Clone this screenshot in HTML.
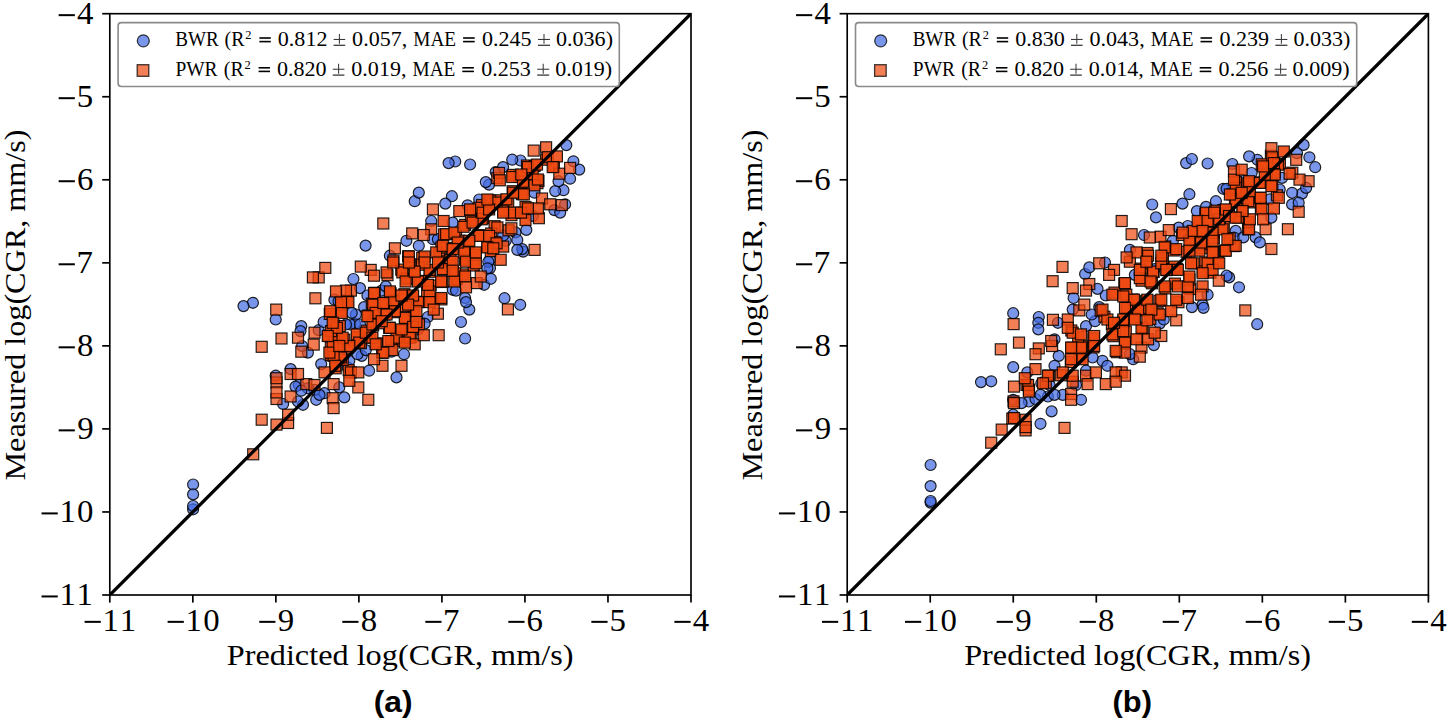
<!DOCTYPE html>
<html><head><meta charset="utf-8"><style>
html,body{margin:0;padding:0;background:#fff;width:1450px;height:726px;overflow:hidden}
svg{display:block}
</style></head><body>
<svg width="1450" height="726" viewBox="0 0 1450 726"><svg x="109.80" y="13.70" width="581.20" height="581.30" viewBox="109.80 13.70 581.20 581.30" overflow="hidden">
<g fill="#4169e1" fill-opacity="0.7" stroke="#000" stroke-opacity="0.85" stroke-width="1.2">
<circle cx="324.5" cy="393.2" r="5.5"/>
<circle cx="523.1" cy="251.6" r="5.5"/>
<circle cx="579.2" cy="169.6" r="5.5"/>
<circle cx="355.0" cy="323.6" r="5.5"/>
<circle cx="252.9" cy="302.8" r="5.5"/>
<circle cx="350.1" cy="324.5" r="5.5"/>
<circle cx="515.5" cy="232.4" r="5.5"/>
<circle cx="298.8" cy="385.0" r="5.5"/>
<circle cx="504.5" cy="298.2" r="5.5"/>
<circle cx="334.4" cy="299.7" r="5.5"/>
<circle cx="563.5" cy="190.2" r="5.5"/>
<circle cx="465.1" cy="298.0" r="5.5"/>
<circle cx="520.2" cy="304.8" r="5.5"/>
<circle cx="490.0" cy="268.1" r="5.5"/>
<circle cx="414.7" cy="201.2" r="5.5"/>
<circle cx="404.0" cy="354.2" r="5.5"/>
<circle cx="427.9" cy="317.0" r="5.5"/>
<circle cx="361.7" cy="355.9" r="5.5"/>
<circle cx="338.5" cy="301.3" r="5.5"/>
<circle cx="517.3" cy="240.0" r="5.5"/>
<circle cx="307.9" cy="352.6" r="5.5"/>
<circle cx="301.3" cy="326.1" r="5.5"/>
<circle cx="461.0" cy="322.0" r="5.5"/>
<circle cx="406.4" cy="240.8" r="5.5"/>
<circle cx="347.6" cy="367.4" r="5.5"/>
<circle cx="489.1" cy="184.6" r="5.5"/>
<circle cx="349.3" cy="360.8" r="5.5"/>
<circle cx="369.1" cy="370.7" r="5.5"/>
<circle cx="520.5" cy="160.5" r="5.5"/>
<circle cx="193.1" cy="509.3" r="5.5"/>
<circle cx="391.6" cy="351.7" r="5.5"/>
<circle cx="193.1" cy="506.0" r="5.5"/>
<circle cx="283.1" cy="404.0" r="5.5"/>
<circle cx="295.5" cy="386.6" r="5.5"/>
<circle cx="314.5" cy="389.9" r="5.5"/>
<circle cx="484.1" cy="284.8" r="5.5"/>
<circle cx="570.1" cy="178.7" r="5.5"/>
<circle cx="290.6" cy="369.1" r="5.5"/>
<circle cx="526.3" cy="229.9" r="5.5"/>
<circle cx="452.7" cy="289.8" r="5.5"/>
<circle cx="566.3" cy="145.1" r="5.5"/>
<circle cx="432.9" cy="239.2" r="5.5"/>
<circle cx="357.5" cy="354.2" r="5.5"/>
<circle cx="344.3" cy="397.4" r="5.5"/>
<circle cx="381.7" cy="290.6" r="5.5"/>
<circle cx="418.8" cy="192.6" r="5.5"/>
<circle cx="505.7" cy="240.8" r="5.5"/>
<circle cx="243.5" cy="306.1" r="5.5"/>
<circle cx="418.0" cy="329.4" r="5.5"/>
<circle cx="554.4" cy="210.1" r="5.5"/>
<circle cx="365.8" cy="350.1" r="5.5"/>
<circle cx="455.2" cy="161.5" r="5.5"/>
<circle cx="355.9" cy="314.5" r="5.5"/>
<circle cx="321.2" cy="364.1" r="5.5"/>
<circle cx="448.6" cy="163.1" r="5.5"/>
<circle cx="522.2" cy="249.1" r="5.5"/>
<circle cx="360.0" cy="324.5" r="5.5"/>
<circle cx="351.7" cy="312.9" r="5.5"/>
<circle cx="385.8" cy="286.4" r="5.5"/>
<circle cx="469.3" cy="309.6" r="5.5"/>
<circle cx="512.2" cy="159.7" r="5.5"/>
<circle cx="451.9" cy="196.2" r="5.5"/>
<circle cx="303.0" cy="404.8" r="5.5"/>
<circle cx="534.5" cy="192.7" r="5.5"/>
<circle cx="465.1" cy="338.5" r="5.5"/>
<circle cx="452.7" cy="222.6" r="5.5"/>
<circle cx="555.2" cy="191.1" r="5.5"/>
<circle cx="503.1" cy="235.7" r="5.5"/>
<circle cx="424.6" cy="323.6" r="5.5"/>
<circle cx="490.0" cy="259.8" r="5.5"/>
<circle cx="495.7" cy="172.1" r="5.5"/>
<circle cx="307.9" cy="388.3" r="5.5"/>
<circle cx="479.2" cy="199.5" r="5.5"/>
<circle cx="488.3" cy="261.7" r="5.5"/>
<circle cx="573.4" cy="161.3" r="5.5"/>
<circle cx="532.9" cy="215.9" r="5.5"/>
<circle cx="445.3" cy="203.6" r="5.5"/>
<circle cx="275.7" cy="319.5" r="5.5"/>
<circle cx="316.2" cy="399.8" r="5.5"/>
<circle cx="360.0" cy="288.1" r="5.5"/>
<circle cx="503.1" cy="167.1" r="5.5"/>
<circle cx="319.5" cy="394.9" r="5.5"/>
<circle cx="367.4" cy="295.5" r="5.5"/>
<circle cx="301.3" cy="390.7" r="5.5"/>
<circle cx="396.5" cy="377.4" r="5.5"/>
<circle cx="318.7" cy="330.2" r="5.5"/>
<circle cx="565.1" cy="204.3" r="5.5"/>
<circle cx="487.4" cy="268.3" r="5.5"/>
<circle cx="466.0" cy="302.1" r="5.5"/>
<circle cx="193.1" cy="484.5" r="5.5"/>
<circle cx="490.8" cy="278.8" r="5.5"/>
<circle cx="353.4" cy="279.0" r="5.5"/>
<circle cx="560.2" cy="212.6" r="5.5"/>
<circle cx="467.6" cy="205.3" r="5.5"/>
<circle cx="485.8" cy="182.1" r="5.5"/>
<circle cx="364.1" cy="307.1" r="5.5"/>
<circle cx="437.9" cy="239.2" r="5.5"/>
<circle cx="323.6" cy="322.0" r="5.5"/>
<circle cx="275.7" cy="375.7" r="5.5"/>
<circle cx="470.1" cy="164.5" r="5.5"/>
<circle cx="517.3" cy="249.9" r="5.5"/>
<circle cx="418.8" cy="245.8" r="5.5"/>
<circle cx="431.2" cy="221.0" r="5.5"/>
<circle cx="193.1" cy="494.4" r="5.5"/>
<circle cx="389.9" cy="255.7" r="5.5"/>
<circle cx="300.5" cy="331.1" r="5.5"/>
<circle cx="456.0" cy="290.6" r="5.5"/>
<circle cx="346.0" cy="324.5" r="5.5"/>
<circle cx="298.0" cy="401.5" r="5.5"/>
<circle cx="339.3" cy="387.4" r="5.5"/>
<circle cx="365.6" cy="245.6" r="5.5"/>
<circle cx="558.5" cy="181.2" r="5.5"/>
<circle cx="302.1" cy="346.0" r="5.5"/>
</g>
<g fill="#ee4810" fill-opacity="0.7" stroke="#000" stroke-opacity="0.85" stroke-width="1.2">
<rect x="438.6" y="228.9" width="11.0" height="11.0" fill-opacity="0.91"/>
<rect x="366.3" y="298.1" width="11.0" height="11.0" fill-opacity="0.91"/>
<rect x="328.9" y="329.1" width="11.0" height="11.0" fill-opacity="0.91"/>
<rect x="335.4" y="305.1" width="11.0" height="11.0" fill-opacity="0.91"/>
<rect x="506.0" y="209.7" width="11.0" height="11.0" fill-opacity="0.91"/>
<rect x="450.6" y="228.4" width="11.0" height="11.0" fill-opacity="0.91"/>
<rect x="437.2" y="264.1" width="11.0" height="11.0" fill-opacity="0.91"/>
<rect x="405.9" y="331.1" width="11.0" height="11.0" fill-opacity="0.91"/>
<rect x="473.1" y="229.6" width="11.0" height="11.0" fill-opacity="0.91"/>
<rect x="532.0" y="177.7" width="11.0" height="11.0" fill-opacity="0.91"/>
<rect x="343.2" y="364.6" width="11.0" height="11.0" fill-opacity="0.91"/>
<rect x="391.6" y="334.7" width="11.0" height="11.0" fill-opacity="0.91"/>
<rect x="367.7" y="307.7" width="11.0" height="11.0" fill-opacity="0.91"/>
<rect x="351.6" y="331.6" width="11.0" height="11.0" fill-opacity="0.91"/>
<rect x="386.9" y="294.6" width="11.0" height="11.0" fill-opacity="0.91"/>
<rect x="491.2" y="194.8" width="11.0" height="11.0" fill-opacity="0.91"/>
<rect x="451.3" y="273.6" width="11.0" height="11.0" fill-opacity="0.91"/>
<rect x="489.1" y="220.7" width="11.0" height="11.0" fill-opacity="0.91"/>
<rect x="459.5" y="244.0" width="11.0" height="11.0" fill-opacity="0.91"/>
<rect x="463.2" y="237.3" width="11.0" height="11.0" fill-opacity="0.91"/>
<rect x="459.7" y="219.4" width="11.0" height="11.0" fill-opacity="0.91"/>
<rect x="355.4" y="337.7" width="11.0" height="11.0" fill-opacity="0.91"/>
<rect x="516.3" y="188.6" width="11.0" height="11.0" fill-opacity="0.91"/>
<rect x="361.4" y="325.2" width="11.0" height="11.0" fill-opacity="0.91"/>
<rect x="414.6" y="296.3" width="11.0" height="11.0" fill-opacity="0.91"/>
<rect x="433.5" y="248.7" width="11.0" height="11.0" fill-opacity="0.91"/>
<rect x="424.3" y="266.3" width="11.0" height="11.0" fill-opacity="0.91"/>
<rect x="399.6" y="313.6" width="11.0" height="11.0" fill-opacity="0.91"/>
<rect x="341.8" y="294.9" width="11.0" height="11.0" fill-opacity="0.91"/>
<rect x="395.7" y="264.1" width="11.0" height="11.0" fill-opacity="0.91"/>
<rect x="502.7" y="196.4" width="11.0" height="11.0" fill-opacity="0.91"/>
<rect x="477.5" y="212.8" width="11.0" height="11.0" fill-opacity="0.91"/>
<rect x="526.5" y="168.0" width="11.0" height="11.0" fill-opacity="0.91"/>
<rect x="408.2" y="304.6" width="11.0" height="11.0" fill-opacity="0.91"/>
<rect x="369.2" y="287.3" width="11.0" height="11.0" fill-opacity="0.84"/>
<rect x="342.3" y="342.2" width="11.0" height="11.0" fill-opacity="0.91"/>
<rect x="337.2" y="354.4" width="11.0" height="11.0" fill-opacity="0.91"/>
<rect x="380.0" y="297.3" width="11.0" height="11.0" fill-opacity="0.91"/>
<rect x="459.6" y="254.3" width="11.0" height="11.0" fill-opacity="0.91"/>
<rect x="326.3" y="348.6" width="11.0" height="11.0" fill-opacity="0.91"/>
<rect x="406.7" y="292.0" width="11.0" height="11.0" fill-opacity="0.91"/>
<rect x="416.7" y="252.5" width="11.0" height="11.0" fill-opacity="0.91"/>
<rect x="421.6" y="286.4" width="11.0" height="11.0" fill-opacity="0.91"/>
<rect x="521.5" y="160.0" width="11.0" height="11.0" fill-opacity="0.91"/>
<rect x="476.5" y="199.5" width="11.0" height="11.0" fill-opacity="0.91"/>
<rect x="325.3" y="342.2" width="11.0" height="11.0" fill-opacity="0.91"/>
<rect x="330.2" y="362.8" width="11.0" height="11.0" fill-opacity="0.91"/>
<rect x="465.5" y="214.8" width="11.0" height="11.0" fill-opacity="0.91"/>
<rect x="385.1" y="287.8" width="11.0" height="11.0" fill-opacity="0.91"/>
<rect x="396.8" y="335.5" width="11.0" height="11.0" fill-opacity="0.91"/>
<rect x="414.4" y="275.4" width="11.0" height="11.0" fill-opacity="0.91"/>
<rect x="475.6" y="209.4" width="11.0" height="11.0" fill-opacity="0.91"/>
<rect x="401.5" y="273.1" width="11.0" height="11.0" fill-opacity="0.91"/>
<rect x="399.7" y="300.6" width="11.0" height="11.0" fill-opacity="0.91"/>
<rect x="402.6" y="250.8" width="11.0" height="11.0" fill-opacity="0.88"/>
<rect x="485.7" y="228.0" width="11.0" height="11.0" fill-opacity="0.91"/>
<rect x="434.0" y="255.9" width="11.0" height="11.0" fill-opacity="0.91"/>
<rect x="389.4" y="306.7" width="11.0" height="11.0" fill-opacity="0.91"/>
<rect x="457.7" y="268.9" width="11.0" height="11.0" fill-opacity="0.91"/>
<rect x="468.2" y="260.0" width="11.0" height="11.0" fill-opacity="0.91"/>
<rect x="394.8" y="325.2" width="11.0" height="11.0" fill-opacity="0.91"/>
<rect x="327.6" y="326.2" width="11.0" height="11.0" fill-opacity="0.91"/>
<rect x="445.0" y="254.4" width="11.0" height="11.0" fill-opacity="0.91"/>
<rect x="435.9" y="293.9" width="11.0" height="11.0" fill-opacity="0.88"/>
<rect x="338.8" y="334.1" width="11.0" height="11.0" fill-opacity="0.91"/>
<rect x="367.6" y="320.0" width="11.0" height="11.0" fill-opacity="0.91"/>
<rect x="335.8" y="299.3" width="11.0" height="11.0" fill-opacity="0.91"/>
<rect x="334.3" y="320.5" width="11.0" height="11.0" fill-opacity="0.91"/>
<rect x="376.6" y="347.3" width="11.0" height="11.0" fill-opacity="0.91"/>
<rect x="416.4" y="259.2" width="11.0" height="11.0" fill-opacity="0.91"/>
<rect x="435.8" y="242.0" width="11.0" height="11.0" fill-opacity="0.91"/>
<rect x="323.4" y="330.2" width="11.0" height="11.0" fill-opacity="0.91"/>
<rect x="507.1" y="185.7" width="11.0" height="11.0" fill-opacity="0.91"/>
<rect x="408.8" y="266.3" width="11.0" height="11.0" fill-opacity="0.91"/>
<rect x="503.0" y="224.8" width="11.0" height="11.0" fill-opacity="0.84"/>
<rect x="379.1" y="309.0" width="11.0" height="11.0" fill-opacity="0.91"/>
<rect x="325.7" y="349.7" width="11.0" height="11.0" fill-opacity="0.91"/>
<rect x="426.9" y="293.8" width="11.0" height="11.0" fill-opacity="0.91"/>
<rect x="436.8" y="276.5" width="11.0" height="11.0" fill-opacity="0.91"/>
<rect x="507.3" y="169.4" width="11.0" height="11.0" fill-opacity="0.91"/>
<rect x="398.9" y="288.7" width="11.0" height="11.0" fill-opacity="0.91"/>
<rect x="498.0" y="205.1" width="11.0" height="11.0" fill-opacity="0.91"/>
<rect x="364.4" y="332.1" width="11.0" height="11.0" fill-opacity="0.91"/>
<rect x="331.9" y="339.4" width="11.0" height="11.0" fill-opacity="0.91"/>
<rect x="449.6" y="267.8" width="11.0" height="11.0" fill-opacity="0.91"/>
<rect x="467.2" y="204.8" width="11.0" height="11.0" fill-opacity="0.91"/>
<rect x="489.5" y="236.7" width="11.0" height="11.0" fill-opacity="0.91"/>
<rect x="328.3" y="320.0" width="11.0" height="11.0" fill-opacity="0.91"/>
<rect x="371.5" y="337.8" width="11.0" height="11.0" fill-opacity="0.91"/>
<rect x="533.0" y="175.4" width="11.0" height="11.0" fill-opacity="0.91"/>
<rect x="382.0" y="269.7" width="11.0" height="11.0" fill-opacity="0.8"/>
<rect x="540.6" y="154.2" width="11.0" height="11.0" fill-opacity="0.91"/>
<rect x="519.1" y="177.0" width="11.0" height="11.0" fill-opacity="0.91"/>
<rect x="383.6" y="322.3" width="11.0" height="11.0" fill-opacity="0.91"/>
<rect x="453.9" y="235.2" width="11.0" height="11.0" fill-opacity="0.91"/>
<rect x="446.0" y="242.4" width="11.0" height="11.0" fill-opacity="0.91"/>
<rect x="388.0" y="255.0" width="11.0" height="11.0" fill-opacity="0.84"/>
<rect x="548.4" y="161.4" width="11.0" height="11.0" fill-opacity="0.84"/>
<rect x="491.8" y="172.6" width="11.0" height="11.0" fill-opacity="0.73"/>
<rect x="408.2" y="321.5" width="11.0" height="11.0" fill-opacity="0.91"/>
<rect x="482.9" y="201.9" width="11.0" height="11.0" fill-opacity="0.91"/>
<rect x="324.3" y="308.4" width="11.0" height="11.0" fill-opacity="0.91"/>
<rect x="404.7" y="258.7" width="11.0" height="11.0" fill-opacity="0.91"/>
<rect x="481.9" y="241.3" width="11.0" height="11.0" fill-opacity="0.91"/>
<rect x="362.8" y="310.0" width="11.0" height="11.0" fill-opacity="0.91"/>
<rect x="517.5" y="207.4" width="11.0" height="11.0" fill-opacity="0.88"/>
<rect x="385.7" y="335.6" width="11.0" height="11.0" fill-opacity="0.91"/>
<rect x="520.0" y="201.5" width="11.0" height="11.0" fill-opacity="0.91"/>
<rect x="529.1" y="160.5" width="11.0" height="11.0" fill-opacity="0.91"/>
<rect x="485.3" y="245.6" width="11.0" height="11.0" fill-opacity="0.91"/>
<rect x="425.2" y="280.0" width="11.0" height="11.0" fill-opacity="0.91"/>
<rect x="484.7" y="195.1" width="11.0" height="11.0" fill-opacity="0.91"/>
<rect x="373.6" y="317.8" width="11.0" height="11.0" fill-opacity="0.91"/>
<rect x="514.3" y="171.2" width="11.0" height="11.0" fill-opacity="0.91"/>
<rect x="413.5" y="318.9" width="11.0" height="11.0" fill-opacity="0.91"/>
<rect x="469.8" y="249.4" width="11.0" height="11.0" fill-opacity="0.91"/>
<rect x="425.7" y="223.8" width="11.0" height="11.0" fill-opacity="0.77"/>
<rect x="528.2" y="145.1" width="11.0" height="11.0" fill-opacity="0.73"/>
<rect x="502.4" y="303.9" width="11.0" height="11.0"/>
<rect x="432.4" y="308.2" width="11.0" height="11.0" fill-opacity="0.73"/>
<rect x="440.6" y="228.7" width="11.0" height="11.0" fill-opacity="0.91"/>
<rect x="367.7" y="299.1" width="11.0" height="11.0" fill-opacity="0.91"/>
<rect x="328.9" y="330.5" width="11.0" height="11.0" fill-opacity="0.91"/>
<rect x="336.3" y="307.4" width="11.0" height="11.0" fill-opacity="0.91"/>
<rect x="386.9" y="344.6" width="11.0" height="11.0" fill-opacity="0.91"/>
<rect x="507.6" y="207.1" width="11.0" height="11.0" fill-opacity="0.91"/>
<rect x="448.9" y="227.1" width="11.0" height="11.0" fill-opacity="0.91"/>
<rect x="437.3" y="263.6" width="11.0" height="11.0" fill-opacity="0.91"/>
<rect x="404.3" y="332.2" width="11.0" height="11.0" fill-opacity="0.91"/>
<rect x="327.2" y="392.7" width="11.0" height="11.0"/>
<rect x="328.1" y="378.6" width="11.0" height="11.0"/>
<rect x="473.7" y="230.4" width="11.0" height="11.0" fill-opacity="0.91"/>
<rect x="271.0" y="377.0" width="11.0" height="11.0" fill-opacity="0.73"/>
<rect x="529.0" y="179.8" width="11.0" height="11.0" fill-opacity="0.91"/>
<rect x="352.8" y="381.9" width="11.0" height="11.0" fill-opacity="0.73"/>
<rect x="345.4" y="366.9" width="11.0" height="11.0" fill-opacity="0.8"/>
<rect x="391.0" y="332.2" width="11.0" height="11.0" fill-opacity="0.91"/>
<rect x="370.2" y="307.4" width="11.0" height="11.0" fill-opacity="0.91"/>
<rect x="351.2" y="328.9" width="11.0" height="11.0" fill-opacity="0.91"/>
<rect x="387.7" y="295.8" width="11.0" height="11.0" fill-opacity="0.91"/>
<rect x="313.2" y="271.9" width="11.0" height="11.0" fill-opacity="0.73"/>
<rect x="491.0" y="197.1" width="11.0" height="11.0" fill-opacity="0.91"/>
<rect x="448.9" y="276.0" width="11.0" height="11.0" fill-opacity="0.91"/>
<rect x="491.9" y="221.9" width="11.0" height="11.0" fill-opacity="0.8"/>
<rect x="458.8" y="246.9" width="11.0" height="11.0" fill-opacity="0.91"/>
<rect x="309.0" y="327.2" width="11.0" height="11.0" fill-opacity="0.73"/>
<rect x="463.8" y="235.3" width="11.0" height="11.0" fill-opacity="0.91"/>
<rect x="458.0" y="221.3" width="11.0" height="11.0" fill-opacity="0.88"/>
<rect x="282.6" y="417.5" width="11.0" height="11.0" fill-opacity="0.73"/>
<rect x="353.7" y="337.1" width="11.0" height="11.0" fill-opacity="0.91"/>
<rect x="362.8" y="394.3" width="11.0" height="11.0"/>
<rect x="518.3" y="188.9" width="11.0" height="11.0" fill-opacity="0.91"/>
<rect x="453.8" y="205.6" width="11.0" height="11.0" fill-opacity="0.84"/>
<rect x="360.3" y="327.2" width="11.0" height="11.0" fill-opacity="0.91"/>
<rect x="412.5" y="296.6" width="11.0" height="11.0" fill-opacity="0.91"/>
<rect x="271.0" y="393.5" width="11.0" height="11.0"/>
<rect x="430.7" y="246.9" width="11.0" height="11.0" fill-opacity="0.91"/>
<rect x="533.4" y="212.7" width="11.0" height="11.0" fill-opacity="0.84"/>
<rect x="424.1" y="264.4" width="11.0" height="11.0" fill-opacity="0.91"/>
<rect x="399.3" y="312.4" width="11.0" height="11.0" fill-opacity="0.91"/>
<rect x="256.2" y="341.3" width="11.0" height="11.0"/>
<rect x="342.9" y="296.6" width="11.0" height="11.0" fill-opacity="0.91"/>
<rect x="389.4" y="242.8" width="11.0" height="11.0" fill-opacity="0.73"/>
<rect x="396.8" y="266.9" width="11.0" height="11.0" fill-opacity="0.91"/>
<rect x="500.9" y="193.8" width="11.0" height="11.0" fill-opacity="0.91"/>
<rect x="476.2" y="213.8" width="11.0" height="11.0" fill-opacity="0.91"/>
<rect x="536.5" y="193.0" width="11.0" height="11.0" fill-opacity="0.77"/>
<rect x="527.2" y="168.6" width="11.0" height="11.0" fill-opacity="0.91"/>
<rect x="410.9" y="305.7" width="11.0" height="11.0" fill-opacity="0.91"/>
<rect x="368.5" y="287.6" width="11.0" height="11.0" fill-opacity="0.84"/>
<rect x="343.8" y="340.5" width="11.0" height="11.0" fill-opacity="0.91"/>
<rect x="335.5" y="352.0" width="11.0" height="11.0" fill-opacity="0.91"/>
<rect x="300.8" y="378.6" width="11.0" height="11.0" fill-opacity="0.73"/>
<rect x="309.0" y="379.5" width="11.0" height="11.0" fill-opacity="0.73"/>
<rect x="495.2" y="254.3" width="11.0" height="11.0" fill-opacity="0.84"/>
<rect x="409.2" y="338.8" width="11.0" height="11.0" fill-opacity="0.84"/>
<rect x="377.8" y="297.5" width="11.0" height="11.0" fill-opacity="0.91"/>
<rect x="460.5" y="256.2" width="11.0" height="11.0" fill-opacity="0.91"/>
<rect x="328.1" y="350.4" width="11.0" height="11.0" fill-opacity="0.91"/>
<rect x="256.2" y="414.2" width="11.0" height="11.0"/>
<rect x="407.6" y="290.0" width="11.0" height="11.0" fill-opacity="0.91"/>
<rect x="406.7" y="227.9" width="11.0" height="11.0"/>
<rect x="419.1" y="251.0" width="11.0" height="11.0" fill-opacity="0.88"/>
<rect x="433.2" y="329.7" width="11.0" height="11.0"/>
<rect x="424.1" y="285.9" width="11.0" height="11.0" fill-opacity="0.91"/>
<rect x="471.2" y="277.6" width="11.0" height="11.0" fill-opacity="0.8"/>
<rect x="522.4" y="161.6" width="11.0" height="11.0" fill-opacity="0.91"/>
<rect x="345.4" y="285.1" width="11.0" height="11.0" fill-opacity="0.8"/>
<rect x="473.7" y="202.3" width="11.0" height="11.0" fill-opacity="0.91"/>
<rect x="309.9" y="292.8" width="11.0" height="11.0"/>
<rect x="327.2" y="340.5" width="11.0" height="11.0" fill-opacity="0.91"/>
<rect x="270.7" y="304.1" width="11.0" height="11.0"/>
<rect x="329.7" y="360.3" width="11.0" height="11.0" fill-opacity="0.91"/>
<rect x="556.3" y="199.6" width="11.0" height="11.0"/>
<rect x="438.1" y="215.5" width="11.0" height="11.0" fill-opacity="0.88"/>
<rect x="467.1" y="217.1" width="11.0" height="11.0" fill-opacity="0.91"/>
<rect x="384.4" y="285.9" width="11.0" height="11.0" fill-opacity="0.88"/>
<rect x="399.3" y="337.1" width="11.0" height="11.0" fill-opacity="0.91"/>
<rect x="520.0" y="214.5" width="11.0" height="11.0" fill-opacity="0.91"/>
<rect x="412.5" y="276.0" width="11.0" height="11.0" fill-opacity="0.91"/>
<rect x="477.0" y="207.2" width="11.0" height="11.0" fill-opacity="0.91"/>
<rect x="418.3" y="329.7" width="11.0" height="11.0" fill-opacity="0.88"/>
<rect x="400.1" y="276.0" width="11.0" height="11.0" fill-opacity="0.91"/>
<rect x="402.6" y="299.1" width="11.0" height="11.0" fill-opacity="0.91"/>
<rect x="403.4" y="251.0" width="11.0" height="11.0" fill-opacity="0.88"/>
<rect x="483.6" y="230.4" width="11.0" height="11.0" fill-opacity="0.91"/>
<rect x="432.4" y="257.0" width="11.0" height="11.0" fill-opacity="0.91"/>
<rect x="389.4" y="305.7" width="11.0" height="11.0" fill-opacity="0.91"/>
<rect x="459.6" y="271.0" width="11.0" height="11.0" fill-opacity="0.91"/>
<rect x="247.7" y="448.8" width="11.0" height="11.0"/>
<rect x="470.4" y="257.8" width="11.0" height="11.0" fill-opacity="0.91"/>
<rect x="308.2" y="339.1" width="11.0" height="11.0" fill-opacity="0.73"/>
<rect x="396.0" y="323.9" width="11.0" height="11.0" fill-opacity="0.91"/>
<rect x="553.8" y="168.2" width="11.0" height="11.0" fill-opacity="0.8"/>
<rect x="493.5" y="167.4" width="11.0" height="11.0" fill-opacity="0.8"/>
<rect x="325.6" y="325.6" width="11.0" height="11.0" fill-opacity="0.91"/>
<rect x="377.0" y="360.3" width="11.0" height="11.0" fill-opacity="0.77"/>
<rect x="540.6" y="141.8" width="11.0" height="11.0" fill-opacity="0.8"/>
<rect x="365.2" y="264.4" width="11.0" height="11.0" fill-opacity="0.73"/>
<rect x="447.2" y="256.2" width="11.0" height="11.0" fill-opacity="0.91"/>
<rect x="435.7" y="292.5" width="11.0" height="11.0" fill-opacity="0.91"/>
<rect x="337.1" y="332.2" width="11.0" height="11.0" fill-opacity="0.91"/>
<rect x="497.7" y="241.1" width="11.0" height="11.0" fill-opacity="0.88"/>
<rect x="271.0" y="386.9" width="11.0" height="11.0" fill-opacity="0.73"/>
<rect x="366.9" y="319.0" width="11.0" height="11.0" fill-opacity="0.91"/>
<rect x="335.5" y="296.6" width="11.0" height="11.0" fill-opacity="0.91"/>
<rect x="328.1" y="402.6" width="11.0" height="11.0"/>
<rect x="331.4" y="322.3" width="11.0" height="11.0" fill-opacity="0.91"/>
<rect x="377.8" y="347.1" width="11.0" height="11.0" fill-opacity="0.91"/>
<rect x="419.1" y="257.0" width="11.0" height="11.0" fill-opacity="0.91"/>
<rect x="437.3" y="240.3" width="11.0" height="11.0" fill-opacity="0.91"/>
<rect x="322.3" y="330.5" width="11.0" height="11.0" fill-opacity="0.91"/>
<rect x="319.0" y="366.9" width="11.0" height="11.0" fill-opacity="0.8"/>
<rect x="507.6" y="187.2" width="11.0" height="11.0" fill-opacity="0.91"/>
<rect x="285.1" y="391.0" width="11.0" height="11.0"/>
<rect x="409.2" y="266.1" width="11.0" height="11.0" fill-opacity="0.91"/>
<rect x="505.9" y="222.8" width="11.0" height="11.0" fill-opacity="0.73"/>
<rect x="285.1" y="368.5" width="11.0" height="11.0"/>
<rect x="381.1" y="309.0" width="11.0" height="11.0" fill-opacity="0.91"/>
<rect x="271.0" y="419.1" width="11.0" height="11.0" fill-opacity="0.73"/>
<rect x="323.9" y="347.1" width="11.0" height="11.0" fill-opacity="0.91"/>
<rect x="529.1" y="244.4" width="11.0" height="11.0"/>
<rect x="424.1" y="296.6" width="11.0" height="11.0" fill-opacity="0.91"/>
<rect x="435.7" y="276.0" width="11.0" height="11.0" fill-opacity="0.91"/>
<rect x="352.8" y="366.9" width="11.0" height="11.0" fill-opacity="0.77"/>
<rect x="506.7" y="171.5" width="11.0" height="11.0" fill-opacity="0.91"/>
<rect x="292.5" y="368.5" width="11.0" height="11.0" fill-opacity="0.73"/>
<rect x="271.0" y="372.7" width="11.0" height="11.0"/>
<rect x="276.0" y="333.0" width="11.0" height="11.0"/>
<rect x="396.0" y="290.0" width="11.0" height="11.0" fill-opacity="0.91"/>
<rect x="497.6" y="207.1" width="11.0" height="11.0" fill-opacity="0.91"/>
<rect x="366.9" y="332.2" width="11.0" height="11.0" fill-opacity="0.91"/>
<rect x="333.8" y="340.5" width="11.0" height="11.0" fill-opacity="0.91"/>
<rect x="321.4" y="422.4" width="11.0" height="11.0"/>
<rect x="447.2" y="265.2" width="11.0" height="11.0" fill-opacity="0.91"/>
<rect x="460.5" y="281.8" width="11.0" height="11.0" fill-opacity="0.84"/>
<rect x="368.5" y="270.2" width="11.0" height="11.0" fill-opacity="0.8"/>
<rect x="464.6" y="203.9" width="11.0" height="11.0" fill-opacity="0.91"/>
<rect x="307.4" y="271.9" width="11.0" height="11.0" fill-opacity="0.73"/>
<rect x="295.8" y="346.2" width="11.0" height="11.0"/>
<rect x="292.5" y="332.2" width="11.0" height="11.0"/>
<rect x="340.5" y="285.1" width="11.0" height="11.0" fill-opacity="0.84"/>
<rect x="475.3" y="271.0" width="11.0" height="11.0" fill-opacity="0.77"/>
<rect x="491.1" y="237.8" width="11.0" height="11.0" fill-opacity="0.91"/>
<rect x="327.2" y="317.3" width="11.0" height="11.0" fill-opacity="0.91"/>
<rect x="370.2" y="338.8" width="11.0" height="11.0" fill-opacity="0.91"/>
<rect x="532.4" y="174.0" width="11.0" height="11.0" fill-opacity="0.91"/>
<rect x="282.6" y="409.2" width="11.0" height="11.0" fill-opacity="0.73"/>
<rect x="368.5" y="353.7" width="11.0" height="11.0" fill-opacity="0.77"/>
<rect x="381.1" y="266.9" width="11.0" height="11.0" fill-opacity="0.8"/>
<rect x="330.5" y="285.9" width="11.0" height="11.0" fill-opacity="0.84"/>
<rect x="544.7" y="198.8" width="11.0" height="11.0" fill-opacity="0.8"/>
<rect x="343.8" y="375.3" width="11.0" height="11.0" fill-opacity="0.84"/>
<rect x="428.2" y="304.1" width="11.0" height="11.0" fill-opacity="0.88"/>
<rect x="532.4" y="202.9" width="11.0" height="11.0" fill-opacity="0.88"/>
<rect x="542.3" y="151.7" width="11.0" height="11.0" fill-opacity="0.91"/>
<rect x="551.4" y="150.9" width="11.0" height="11.0" fill-opacity="0.88"/>
<rect x="319.8" y="262.4" width="11.0" height="11.0" fill-opacity="0.73"/>
<rect x="517.5" y="176.2" width="11.0" height="11.0" fill-opacity="0.91"/>
<rect x="427.4" y="203.9" width="11.0" height="11.0"/>
<rect x="384.4" y="322.3" width="11.0" height="11.0" fill-opacity="0.91"/>
<rect x="452.2" y="237.0" width="11.0" height="11.0" fill-opacity="0.91"/>
<rect x="377.8" y="218.0" width="11.0" height="11.0"/>
<rect x="447.2" y="243.6" width="11.0" height="11.0" fill-opacity="0.91"/>
<rect x="387.7" y="257.0" width="11.0" height="11.0" fill-opacity="0.84"/>
<rect x="547.2" y="161.6" width="11.0" height="11.0" fill-opacity="0.84"/>
<rect x="494.3" y="174.8" width="11.0" height="11.0" fill-opacity="0.88"/>
<rect x="407.6" y="321.4" width="11.0" height="11.0" fill-opacity="0.91"/>
<rect x="483.6" y="203.9" width="11.0" height="11.0" fill-opacity="0.91"/>
<rect x="324.7" y="305.7" width="11.0" height="11.0" fill-opacity="0.88"/>
<rect x="418.3" y="229.5" width="11.0" height="11.0" fill-opacity="0.73"/>
<rect x="403.4" y="257.0" width="11.0" height="11.0" fill-opacity="0.91"/>
<rect x="564.6" y="162.4" width="11.0" height="11.0" fill-opacity="0.73"/>
<rect x="481.9" y="241.9" width="11.0" height="11.0" fill-opacity="0.91"/>
<rect x="361.9" y="310.7" width="11.0" height="11.0" fill-opacity="0.91"/>
<rect x="515.5" y="207.1" width="11.0" height="11.0" fill-opacity="0.91"/>
<rect x="382.8" y="335.5" width="11.0" height="11.0" fill-opacity="0.91"/>
<rect x="355.3" y="261.1" width="11.0" height="11.0" fill-opacity="0.73"/>
<rect x="522.4" y="202.9" width="11.0" height="11.0" fill-opacity="0.88"/>
<rect x="531.5" y="159.1" width="11.0" height="11.0" fill-opacity="0.91"/>
<rect x="487.8" y="242.8" width="11.0" height="11.0" fill-opacity="0.91"/>
<rect x="422.4" y="279.3" width="11.0" height="11.0" fill-opacity="0.91"/>
<rect x="481.9" y="194.0" width="11.0" height="11.0" fill-opacity="0.91"/>
<rect x="376.2" y="315.7" width="11.0" height="11.0" fill-opacity="0.91"/>
<rect x="515.8" y="169.0" width="11.0" height="11.0" fill-opacity="0.91"/>
<rect x="410.9" y="316.5" width="11.0" height="11.0" fill-opacity="0.91"/>
<rect x="470.4" y="246.9" width="11.0" height="11.0" fill-opacity="0.91"/>
<rect x="396.0" y="360.3" width="11.0" height="11.0"/>
</g>
<line x1="109.80" y1="595.00" x2="691.00" y2="13.70" stroke="#000" stroke-width="3.3"/>
</svg>
<rect x="109.80" y="13.70" width="581.20" height="581.30" fill="none" stroke="#000" stroke-width="1.65"/>
<line x1="109.80" y1="595.00" x2="109.80" y2="602.60" stroke="#000" stroke-width="1.7"/>
<line x1="102.20" y1="595.00" x2="109.80" y2="595.00" stroke="#000" stroke-width="1.7"/>
<line x1="192.83" y1="595.00" x2="192.83" y2="602.60" stroke="#000" stroke-width="1.7"/>
<line x1="102.20" y1="511.96" x2="109.80" y2="511.96" stroke="#000" stroke-width="1.7"/>
<line x1="275.86" y1="595.00" x2="275.86" y2="602.60" stroke="#000" stroke-width="1.7"/>
<line x1="102.20" y1="428.91" x2="109.80" y2="428.91" stroke="#000" stroke-width="1.7"/>
<line x1="358.89" y1="595.00" x2="358.89" y2="602.60" stroke="#000" stroke-width="1.7"/>
<line x1="102.20" y1="345.87" x2="109.80" y2="345.87" stroke="#000" stroke-width="1.7"/>
<line x1="441.91" y1="595.00" x2="441.91" y2="602.60" stroke="#000" stroke-width="1.7"/>
<line x1="102.20" y1="262.83" x2="109.80" y2="262.83" stroke="#000" stroke-width="1.7"/>
<line x1="524.94" y1="595.00" x2="524.94" y2="602.60" stroke="#000" stroke-width="1.7"/>
<line x1="102.20" y1="179.79" x2="109.80" y2="179.79" stroke="#000" stroke-width="1.7"/>
<line x1="607.97" y1="595.00" x2="607.97" y2="602.60" stroke="#000" stroke-width="1.7"/>
<line x1="102.20" y1="96.74" x2="109.80" y2="96.74" stroke="#000" stroke-width="1.7"/>
<line x1="691.00" y1="595.00" x2="691.00" y2="602.60" stroke="#000" stroke-width="1.7"/>
<line x1="102.20" y1="13.70" x2="109.80" y2="13.70" stroke="#000" stroke-width="1.7"/>
<rect x="84.60" y="620.85" width="16.2" height="2.0" fill="#000"/>
<text transform="translate(102.54,630.90) scale(1.06,1)" style="font-family:'Liberation Serif';font-size:31.0px">1</text>
<text transform="translate(119.64,630.90) scale(1.06,1)" style="font-family:'Liberation Serif';font-size:31.0px">1</text>
<rect x="41.55" y="595.45" width="16.2" height="2.0" fill="#000"/>
<text transform="translate(59.49,605.20) scale(1.06,1)" style="font-family:'Liberation Serif';font-size:31.0px">1</text>
<text transform="translate(76.59,605.20) scale(1.06,1)" style="font-family:'Liberation Serif';font-size:31.0px">1</text>
<rect x="167.63" y="620.85" width="16.2" height="2.0" fill="#000"/>
<text transform="translate(185.57,630.90) scale(1.06,1)" style="font-family:'Liberation Serif';font-size:31.0px">1</text>
<text transform="translate(203.16,630.90) scale(1.06,1)" style="font-family:'Liberation Serif';font-size:31.0px">0</text>
<rect x="41.55" y="512.41" width="16.2" height="2.0" fill="#000"/>
<text transform="translate(59.49,522.16) scale(1.06,1)" style="font-family:'Liberation Serif';font-size:31.0px">1</text>
<text transform="translate(77.09,522.16) scale(1.06,1)" style="font-family:'Liberation Serif';font-size:31.0px">0</text>
<rect x="259.26" y="620.85" width="16.2" height="2.0" fill="#000"/>
<text transform="translate(277.86,630.90) scale(1.06,1)" style="font-family:'Liberation Serif';font-size:31.0px">9</text>
<rect x="58.65" y="429.36" width="16.2" height="2.0" fill="#000"/>
<text transform="translate(77.25,439.11) scale(1.06,1)" style="font-family:'Liberation Serif';font-size:31.0px">9</text>
<rect x="342.29" y="620.85" width="16.2" height="2.0" fill="#000"/>
<text transform="translate(360.72,630.90) scale(1.06,1)" style="font-family:'Liberation Serif';font-size:31.0px">8</text>
<rect x="58.65" y="346.32" width="16.2" height="2.0" fill="#000"/>
<text transform="translate(77.08,356.07) scale(1.06,1)" style="font-family:'Liberation Serif';font-size:31.0px">8</text>
<rect x="425.31" y="620.85" width="16.2" height="2.0" fill="#000"/>
<text transform="translate(443.09,630.90) scale(1.06,1)" style="font-family:'Liberation Serif';font-size:31.0px">7</text>
<rect x="58.65" y="263.28" width="16.2" height="2.0" fill="#000"/>
<text transform="translate(76.43,273.03) scale(1.06,1)" style="font-family:'Liberation Serif';font-size:31.0px">7</text>
<rect x="508.34" y="620.85" width="16.2" height="2.0" fill="#000"/>
<text transform="translate(526.61,630.90) scale(1.06,1)" style="font-family:'Liberation Serif';font-size:31.0px">6</text>
<rect x="58.65" y="180.24" width="16.2" height="2.0" fill="#000"/>
<text transform="translate(76.92,189.99) scale(1.06,1)" style="font-family:'Liberation Serif';font-size:31.0px">6</text>
<rect x="591.37" y="620.85" width="16.2" height="2.0" fill="#000"/>
<text transform="translate(609.48,630.90) scale(1.06,1)" style="font-family:'Liberation Serif';font-size:31.0px">5</text>
<rect x="58.65" y="97.19" width="16.2" height="2.0" fill="#000"/>
<text transform="translate(76.76,106.94) scale(1.06,1)" style="font-family:'Liberation Serif';font-size:31.0px">5</text>
<rect x="674.40" y="620.85" width="16.2" height="2.0" fill="#000"/>
<text transform="translate(692.83,630.90) scale(1.06,1)" style="font-family:'Liberation Serif';font-size:31.0px">4</text>
<rect x="58.65" y="14.15" width="16.2" height="2.0" fill="#000"/>
<text transform="translate(77.08,23.90) scale(1.06,1)" style="font-family:'Liberation Serif';font-size:31.0px">4</text>
<text transform="translate(226.73,665.10) scale(1.0685,1)" style="font-family:'Liberation Serif';font-size:30.2px;font-weight:normal" fill="#000">Predicted log(CGR, mm/s)</text>
<text transform="translate(24.50,480.46) rotate(-90) scale(1.0646,1)" style="font-family:'Liberation Serif';font-size:30.2px">Measured log(CGR, mm/s)</text>
<text transform="translate(373.71,712.20) scale(1.0631,1)" style="font-family:'Liberation Sans';font-size:29.9px;font-weight:bold" fill="#000">(a)</text>
<rect x="118.10" y="22.6" width="501.20" height="63.9" rx="3.2" ry="3.2" fill="#fff" stroke="#8a8a8a" stroke-width="1.6"/>
<circle cx="143.30" cy="40.85" r="6.0" fill="#4169e1" fill-opacity="0.7" stroke="#000" stroke-opacity="0.75" stroke-width="1.3"/>
<rect x="137.20" y="64.70" width="11.6" height="11.6" fill="#ee4810" fill-opacity="0.7" stroke="#000" stroke-opacity="0.75" stroke-width="1.3"/>
<text transform="translate(175.23,45.80) scale(0.9210,1)" style="font-family:'Liberation Serif';font-size:20.75px;font-weight:normal" fill="#000">BWR</text>
<text transform="translate(224.60,45.80) scale(0.9588,1)" style="font-family:'Liberation Serif';font-size:20.75px;font-weight:normal" fill="#000">(R</text>
<text transform="translate(245.30,39.00) scale(0.9353,1)" style="font-family:'Liberation Serif';font-size:13.3px;font-weight:normal" fill="#000">2</text>
<rect x="259.40" y="37.20" width="11.40" height="1.6" fill="#000"/>
<rect x="259.40" y="40.80" width="11.40" height="1.6" fill="#000"/>
<text transform="translate(277.82,45.80) scale(1.0630,1)" style="font-family:'Liberation Serif';font-size:20.75px;font-weight:normal" fill="#000">0.812</text>
<g stroke="#3a3a3a" stroke-width="1.05" fill="none"><line x1="333.60" y1="39.45" x2="345.20" y2="39.45"/><line x1="339.40" y1="33.90" x2="339.40" y2="43.84"/><line x1="333.60" y1="45.30" x2="345.20" y2="45.30" stroke-width="1.3"/></g>
<text transform="translate(352.12,45.80) scale(1.0630,1)" style="font-family:'Liberation Serif';font-size:20.75px;font-weight:normal" fill="#000">0.057,</text>
<text transform="translate(413.32,45.80) scale(0.9278,1)" style="font-family:'Liberation Serif';font-size:20.75px;font-weight:normal" fill="#000">MAE</text>
<rect x="463.10" y="37.20" width="11.60" height="1.6" fill="#000"/>
<rect x="463.10" y="40.80" width="11.60" height="1.6" fill="#000"/>
<text transform="translate(482.02,45.80) scale(1.0630,1)" style="font-family:'Liberation Serif';font-size:20.75px;font-weight:normal" fill="#000">0.245</text>
<g stroke="#3a3a3a" stroke-width="1.05" fill="none"><line x1="538.00" y1="39.45" x2="550.00" y2="39.45"/><line x1="544.00" y1="33.90" x2="544.00" y2="43.84"/><line x1="538.00" y1="45.30" x2="550.00" y2="45.30" stroke-width="1.3"/></g>
<text transform="translate(556.02,45.80) scale(1.0630,1)" style="font-family:'Liberation Serif';font-size:20.75px;font-weight:normal" fill="#000">0.036)</text>
<text transform="translate(175.42,75.60) scale(0.9391,1)" style="font-family:'Liberation Serif';font-size:20.75px;font-weight:normal" fill="#000">PWR</text>
<text transform="translate(223.80,75.60) scale(0.9588,1)" style="font-family:'Liberation Serif';font-size:20.75px;font-weight:normal" fill="#000">(R</text>
<text transform="translate(244.50,68.80) scale(0.9353,1)" style="font-family:'Liberation Serif';font-size:13.3px;font-weight:normal" fill="#000">2</text>
<rect x="258.60" y="67.00" width="11.40" height="1.6" fill="#000"/>
<rect x="258.60" y="70.60" width="11.40" height="1.6" fill="#000"/>
<text transform="translate(277.02,75.60) scale(1.0630,1)" style="font-family:'Liberation Serif';font-size:20.75px;font-weight:normal" fill="#000">0.820</text>
<g stroke="#3a3a3a" stroke-width="1.05" fill="none"><line x1="332.80" y1="69.25" x2="344.40" y2="69.25"/><line x1="338.60" y1="63.70" x2="338.60" y2="73.64"/><line x1="332.80" y1="75.10" x2="344.40" y2="75.10" stroke-width="1.3"/></g>
<text transform="translate(351.32,75.60) scale(1.0630,1)" style="font-family:'Liberation Serif';font-size:20.75px;font-weight:normal" fill="#000">0.019,</text>
<text transform="translate(412.52,75.60) scale(0.9278,1)" style="font-family:'Liberation Serif';font-size:20.75px;font-weight:normal" fill="#000">MAE</text>
<rect x="462.30" y="67.00" width="11.60" height="1.6" fill="#000"/>
<rect x="462.30" y="70.60" width="11.60" height="1.6" fill="#000"/>
<text transform="translate(481.22,75.60) scale(1.0630,1)" style="font-family:'Liberation Serif';font-size:20.75px;font-weight:normal" fill="#000">0.253</text>
<g stroke="#3a3a3a" stroke-width="1.05" fill="none"><line x1="537.20" y1="69.25" x2="549.20" y2="69.25"/><line x1="543.20" y1="63.70" x2="543.20" y2="73.64"/><line x1="537.20" y1="75.10" x2="549.20" y2="75.10" stroke-width="1.3"/></g>
<text transform="translate(555.22,75.60) scale(1.0630,1)" style="font-family:'Liberation Serif';font-size:20.75px;font-weight:normal" fill="#000">0.019)</text>
<svg x="847.20" y="13.70" width="581.20" height="581.30" viewBox="847.20 13.70 581.20 581.30" overflow="hidden">
<g fill="#4169e1" fill-opacity="0.7" stroke="#000" stroke-opacity="0.85" stroke-width="1.2">
<circle cx="1013.2" cy="313.2" r="5.5"/>
<circle cx="1241.7" cy="179.6" r="5.5"/>
<circle cx="1152.2" cy="204.5" r="5.5"/>
<circle cx="1257.4" cy="159.8" r="5.5"/>
<circle cx="1038.8" cy="317.0" r="5.5"/>
<circle cx="1133.2" cy="359.2" r="5.5"/>
<circle cx="1038.3" cy="322.8" r="5.5"/>
<circle cx="1085.1" cy="274.0" r="5.5"/>
<circle cx="1058.7" cy="355.9" r="5.5"/>
<circle cx="1102.5" cy="360.8" r="5.5"/>
<circle cx="1086.0" cy="326.1" r="5.5"/>
<circle cx="1099.2" cy="307.1" r="5.5"/>
<circle cx="1255.7" cy="237.4" r="5.5"/>
<circle cx="1095.0" cy="321.2" r="5.5"/>
<circle cx="1315.2" cy="167.2" r="5.5"/>
<circle cx="1073.6" cy="298.0" r="5.5"/>
<circle cx="1129.9" cy="249.9" r="5.5"/>
<circle cx="1189.4" cy="194.2" r="5.5"/>
<circle cx="1027.3" cy="372.4" r="5.5"/>
<circle cx="1239.0" cy="287.3" r="5.5"/>
<circle cx="930.6" cy="502.6" r="5.5"/>
<circle cx="1049.6" cy="385.0" r="5.5"/>
<circle cx="1187.8" cy="226.0" r="5.5"/>
<circle cx="1229.1" cy="277.4" r="5.5"/>
<circle cx="1040.5" cy="423.8" r="5.5"/>
<circle cx="1202.6" cy="304.6" r="5.5"/>
<circle cx="1092.6" cy="357.5" r="5.5"/>
<circle cx="1134.9" cy="274.9" r="5.5"/>
<circle cx="1057.9" cy="322.8" r="5.5"/>
<circle cx="1215.9" cy="201.2" r="5.5"/>
<circle cx="981.0" cy="382.1" r="5.5"/>
<circle cx="1235.7" cy="230.9" r="5.5"/>
<circle cx="1203.5" cy="307.9" r="5.5"/>
<circle cx="1259.8" cy="242.4" r="5.5"/>
<circle cx="1251.6" cy="173.0" r="5.5"/>
<circle cx="1279.7" cy="189.5" r="5.5"/>
<circle cx="1054.5" cy="365.8" r="5.5"/>
<circle cx="1047.9" cy="396.5" r="5.5"/>
<circle cx="1054.5" cy="339.3" r="5.5"/>
<circle cx="1172.9" cy="240.8" r="5.5"/>
<circle cx="1302.0" cy="193.6" r="5.5"/>
<circle cx="1013.2" cy="399.8" r="5.5"/>
<circle cx="930.6" cy="486.1" r="5.5"/>
<circle cx="1154.7" cy="269.1" r="5.5"/>
<circle cx="1153.9" cy="345.1" r="5.5"/>
<circle cx="1156.0" cy="217.4" r="5.5"/>
<circle cx="1041.3" cy="383.3" r="5.5"/>
<circle cx="1232.4" cy="164.0" r="5.5"/>
<circle cx="1062.8" cy="394.9" r="5.5"/>
<circle cx="1292.1" cy="204.4" r="5.5"/>
<circle cx="1013.2" cy="414.7" r="5.5"/>
<circle cx="1306.1" cy="187.9" r="5.5"/>
<circle cx="1028.9" cy="401.5" r="5.5"/>
<circle cx="1182.5" cy="203.6" r="5.5"/>
<circle cx="1051.6" cy="411.4" r="5.5"/>
<circle cx="1207.6" cy="294.7" r="5.5"/>
<circle cx="1223.3" cy="188.8" r="5.5"/>
<circle cx="1105.8" cy="295.5" r="5.5"/>
<circle cx="1234.0" cy="237.5" r="5.5"/>
<circle cx="1269.8" cy="199.4" r="5.5"/>
<circle cx="1097.5" cy="288.9" r="5.5"/>
<circle cx="930.6" cy="501.0" r="5.5"/>
<circle cx="1282.1" cy="177.9" r="5.5"/>
<circle cx="1297.0" cy="153.1" r="5.5"/>
<circle cx="1309.4" cy="157.3" r="5.5"/>
<circle cx="1035.5" cy="399.0" r="5.5"/>
<circle cx="1040.5" cy="394.9" r="5.5"/>
<circle cx="1072.7" cy="309.6" r="5.5"/>
<circle cx="991.2" cy="381.3" r="5.5"/>
<circle cx="1144.0" cy="235.0" r="5.5"/>
<circle cx="1186.1" cy="163.1" r="5.5"/>
<circle cx="1159.7" cy="323.6" r="5.5"/>
<circle cx="1226.6" cy="275.7" r="5.5"/>
<circle cx="1226.6" cy="188.8" r="5.5"/>
<circle cx="930.6" cy="465.0" r="5.5"/>
<circle cx="1038.3" cy="329.4" r="5.5"/>
<circle cx="1271.4" cy="217.6" r="5.5"/>
<circle cx="1081.0" cy="399.8" r="5.5"/>
<circle cx="1196.9" cy="211.1" r="5.5"/>
<circle cx="1207.6" cy="163.5" r="5.5"/>
<circle cx="1178.7" cy="227.6" r="5.5"/>
<circle cx="1163.8" cy="319.5" r="5.5"/>
<circle cx="1206.0" cy="206.9" r="5.5"/>
<circle cx="1129.9" cy="354.2" r="5.5"/>
<circle cx="1292.1" cy="192.8" r="5.5"/>
<circle cx="1191.9" cy="159.0" r="5.5"/>
<circle cx="1107.4" cy="365.8" r="5.5"/>
<circle cx="1303.6" cy="144.9" r="5.5"/>
<circle cx="1013.2" cy="367.1" r="5.5"/>
<circle cx="1243.3" cy="237.4" r="5.5"/>
<circle cx="1021.5" cy="403.1" r="5.5"/>
<circle cx="1249.1" cy="156.4" r="5.5"/>
<circle cx="1054.5" cy="394.9" r="5.5"/>
<circle cx="1076.0" cy="385.0" r="5.5"/>
<circle cx="1298.7" cy="202.7" r="5.5"/>
<circle cx="1257.2" cy="324.2" r="5.5"/>
<circle cx="1086.0" cy="370.7" r="5.5"/>
<circle cx="1191.9" cy="307.1" r="5.5"/>
<circle cx="1105.0" cy="262.5" r="5.5"/>
<circle cx="1091.7" cy="314.5" r="5.5"/>
<circle cx="1089.3" cy="267.4" r="5.5"/>
</g>
<g fill="#ee4810" fill-opacity="0.7" stroke="#000" stroke-opacity="0.85" stroke-width="1.2">
<rect x="1043.3" y="370.0" width="11.0" height="11.0" fill-opacity="0.84"/>
<rect x="1135.0" y="304.8" width="11.0" height="11.0" fill-opacity="0.91"/>
<rect x="1169.4" y="278.1" width="11.0" height="11.0" fill-opacity="0.91"/>
<rect x="1140.6" y="295.5" width="11.0" height="11.0" fill-opacity="0.91"/>
<rect x="1020.9" y="379.4" width="11.0" height="11.0" fill-opacity="0.84"/>
<rect x="1199.8" y="257.0" width="11.0" height="11.0" fill-opacity="0.91"/>
<rect x="1218.3" y="221.6" width="11.0" height="11.0" fill-opacity="0.91"/>
<rect x="1087.8" y="332.9" width="11.0" height="11.0" fill-opacity="0.88"/>
<rect x="1065.8" y="325.0" width="11.0" height="11.0" fill-opacity="0.84"/>
<rect x="1214.4" y="212.8" width="11.0" height="11.0" fill-opacity="0.91"/>
<rect x="1229.5" y="193.9" width="11.0" height="11.0" fill-opacity="0.91"/>
<rect x="1217.9" y="204.6" width="11.0" height="11.0" fill-opacity="0.91"/>
<rect x="1223.4" y="207.8" width="11.0" height="11.0" fill-opacity="0.91"/>
<rect x="1076.7" y="340.8" width="11.0" height="11.0" fill-opacity="0.91"/>
<rect x="1233.0" y="180.3" width="11.0" height="11.0" fill-opacity="0.91"/>
<rect x="1219.5" y="245.1" width="11.0" height="11.0" fill-opacity="0.91"/>
<rect x="1245.0" y="196.9" width="11.0" height="11.0" fill-opacity="0.91"/>
<rect x="1185.3" y="234.8" width="11.0" height="11.0" fill-opacity="0.91"/>
<rect x="1119.4" y="338.2" width="11.0" height="11.0" fill-opacity="0.91"/>
<rect x="1255.4" y="201.8" width="11.0" height="11.0" fill-opacity="0.91"/>
<rect x="1148.1" y="266.4" width="11.0" height="11.0" fill-opacity="0.91"/>
<rect x="1137.2" y="323.5" width="11.0" height="11.0" fill-opacity="0.91"/>
<rect x="1168.2" y="245.0" width="11.0" height="11.0" fill-opacity="0.91"/>
<rect x="1156.3" y="255.2" width="11.0" height="11.0" fill-opacity="0.91"/>
<rect x="1228.3" y="240.6" width="11.0" height="11.0" fill-opacity="0.84"/>
<rect x="1230.4" y="176.6" width="11.0" height="11.0" fill-opacity="0.91"/>
<rect x="1136.1" y="275.2" width="11.0" height="11.0" fill-opacity="0.91"/>
<rect x="1108.0" y="330.7" width="11.0" height="11.0" fill-opacity="0.91"/>
<rect x="1072.7" y="331.7" width="11.0" height="11.0" fill-opacity="0.91"/>
<rect x="1199.8" y="208.5" width="11.0" height="11.0" fill-opacity="0.91"/>
<rect x="1224.2" y="232.7" width="11.0" height="11.0" fill-opacity="0.91"/>
<rect x="1152.2" y="307.8" width="11.0" height="11.0" fill-opacity="0.91"/>
<rect x="1055.2" y="369.8" width="11.0" height="11.0" fill-opacity="0.88"/>
<rect x="1040.3" y="377.3" width="11.0" height="11.0" fill-opacity="0.8"/>
<rect x="1243.4" y="184.1" width="11.0" height="11.0" fill-opacity="0.91"/>
<rect x="1023.5" y="384.1" width="11.0" height="11.0" fill-opacity="0.84"/>
<rect x="1205.0" y="267.1" width="11.0" height="11.0" fill-opacity="0.91"/>
<rect x="1242.0" y="178.0" width="11.0" height="11.0" fill-opacity="0.91"/>
<rect x="1186.4" y="227.0" width="11.0" height="11.0" fill-opacity="0.91"/>
<rect x="1208.4" y="226.9" width="11.0" height="11.0" fill-opacity="0.91"/>
<rect x="1146.4" y="277.8" width="11.0" height="11.0" fill-opacity="0.91"/>
<rect x="1088.0" y="341.9" width="11.0" height="11.0" fill-opacity="0.91"/>
<rect x="1142.0" y="247.5" width="11.0" height="11.0" fill-opacity="0.88"/>
<rect x="1265.4" y="150.3" width="11.0" height="11.0" fill-opacity="0.91"/>
<rect x="1255.7" y="176.9" width="11.0" height="11.0" fill-opacity="0.91"/>
<rect x="1266.8" y="179.9" width="11.0" height="11.0" fill-opacity="0.91"/>
<rect x="1236.4" y="188.6" width="11.0" height="11.0" fill-opacity="0.91"/>
<rect x="1196.3" y="242.7" width="11.0" height="11.0" fill-opacity="0.91"/>
<rect x="1194.1" y="216.8" width="11.0" height="11.0" fill-opacity="0.91"/>
<rect x="1197.3" y="265.9" width="11.0" height="11.0" fill-opacity="0.91"/>
<rect x="1274.4" y="158.5" width="11.0" height="11.0" fill-opacity="0.91"/>
<rect x="1173.0" y="296.7" width="11.0" height="11.0" fill-opacity="0.84"/>
<rect x="1242.5" y="223.8" width="11.0" height="11.0" fill-opacity="0.84"/>
<rect x="1226.9" y="188.8" width="11.0" height="11.0" fill-opacity="0.91"/>
<rect x="1271.4" y="189.8" width="11.0" height="11.0" fill-opacity="0.8"/>
<rect x="1008.0" y="395.9" width="11.0" height="11.0"/>
<rect x="1207.5" y="246.2" width="11.0" height="11.0" fill-opacity="0.91"/>
<rect x="1242.7" y="216.6" width="11.0" height="11.0" fill-opacity="0.91"/>
<rect x="1118.8" y="278.0" width="11.0" height="11.0" fill-opacity="0.88"/>
<rect x="1136.1" y="263.1" width="11.0" height="11.0" fill-opacity="0.91"/>
<rect x="1120.3" y="326.1" width="11.0" height="11.0" fill-opacity="0.91"/>
<rect x="1202.0" y="216.2" width="11.0" height="11.0" fill-opacity="0.91"/>
<rect x="1181.0" y="246.3" width="11.0" height="11.0" fill-opacity="0.91"/>
<rect x="1268.3" y="157.6" width="11.0" height="11.0" fill-opacity="0.91"/>
<rect x="1153.9" y="295.4" width="11.0" height="11.0" fill-opacity="0.91"/>
<rect x="1198.3" y="238.5" width="11.0" height="11.0" fill-opacity="0.91"/>
<rect x="1176.4" y="229.5" width="11.0" height="11.0" fill-opacity="0.88"/>
<rect x="1141.1" y="257.2" width="11.0" height="11.0" fill-opacity="0.91"/>
<rect x="1143.3" y="304.6" width="11.0" height="11.0" fill-opacity="0.91"/>
<rect x="1184.8" y="283.5" width="11.0" height="11.0" fill-opacity="0.91"/>
<rect x="1117.6" y="316.3" width="11.0" height="11.0" fill-opacity="0.91"/>
<rect x="1065.3" y="356.6" width="11.0" height="11.0" fill-opacity="0.88"/>
<rect x="1159.8" y="241.0" width="11.0" height="11.0" fill-opacity="0.88"/>
<rect x="1157.4" y="252.8" width="11.0" height="11.0" fill-opacity="0.91"/>
<rect x="1144.8" y="313.4" width="11.0" height="11.0" fill-opacity="0.91"/>
<rect x="1159.9" y="282.9" width="11.0" height="11.0" fill-opacity="0.91"/>
<rect x="1208.4" y="232.7" width="11.0" height="11.0" fill-opacity="0.91"/>
<rect x="1183.9" y="274.0" width="11.0" height="11.0" fill-opacity="0.91"/>
<rect x="1209.8" y="205.2" width="11.0" height="11.0" fill-opacity="0.91"/>
<rect x="1127.2" y="294.0" width="11.0" height="11.0" fill-opacity="0.91"/>
<rect x="1098.9" y="311.2" width="11.0" height="11.0" fill-opacity="0.84"/>
<rect x="1121.6" y="302.8" width="11.0" height="11.0" fill-opacity="0.91"/>
<rect x="1095.2" y="305.1" width="11.0" height="11.0" fill-opacity="0.84"/>
<rect x="1237.0" y="203.3" width="11.0" height="11.0" fill-opacity="0.91"/>
<rect x="1111.3" y="346.7" width="11.0" height="11.0" fill-opacity="0.8"/>
<rect x="1212.5" y="256.4" width="11.0" height="11.0" fill-opacity="0.91"/>
<rect x="1128.3" y="313.0" width="11.0" height="11.0" fill-opacity="0.91"/>
<rect x="1286.8" y="167.2" width="11.0" height="11.0" fill-opacity="0.8"/>
<rect x="1066.4" y="342.2" width="11.0" height="11.0" fill-opacity="0.91"/>
<rect x="1188.1" y="257.9" width="11.0" height="11.0" fill-opacity="0.91"/>
<rect x="1006.8" y="413.1" width="11.0" height="11.0" fill-opacity="0.84"/>
<rect x="1109.0" y="287.1" width="11.0" height="11.0" fill-opacity="0.84"/>
<rect x="1269.2" y="166.7" width="11.0" height="11.0" fill-opacity="0.91"/>
<rect x="1166.3" y="263.8" width="11.0" height="11.0" fill-opacity="0.91"/>
<rect x="1161.1" y="264.6" width="11.0" height="11.0" fill-opacity="0.91"/>
<rect x="1074.5" y="351.3" width="11.0" height="11.0" fill-opacity="0.91"/>
<rect x="1198.2" y="227.1" width="11.0" height="11.0" fill-opacity="0.91"/>
<rect x="1261.4" y="167.4" width="11.0" height="11.0" fill-opacity="0.91"/>
<rect x="1171.5" y="263.4" width="11.0" height="11.0" fill-opacity="0.91"/>
<rect x="1254.3" y="192.3" width="11.0" height="11.0" fill-opacity="0.91"/>
<rect x="1232.4" y="212.0" width="11.0" height="11.0" fill-opacity="0.91"/>
<rect x="1106.4" y="318.6" width="11.0" height="11.0" fill-opacity="0.91"/>
<rect x="1120.8" y="289.2" width="11.0" height="11.0" fill-opacity="0.91"/>
<rect x="1256.3" y="158.8" width="11.0" height="11.0" fill-opacity="0.91"/>
<rect x="1042.4" y="370.2" width="11.0" height="11.0" fill-opacity="0.84"/>
<rect x="1132.7" y="304.1" width="11.0" height="11.0" fill-opacity="0.91"/>
<rect x="1172.4" y="280.9" width="11.0" height="11.0" fill-opacity="0.91"/>
<rect x="1141.8" y="294.2" width="11.0" height="11.0" fill-opacity="0.91"/>
<rect x="1022.6" y="379.5" width="11.0" height="11.0" fill-opacity="0.8"/>
<rect x="1202.1" y="257.8" width="11.0" height="11.0" fill-opacity="0.91"/>
<rect x="1155.0" y="231.2" width="11.0" height="11.0" fill-opacity="0.84"/>
<rect x="1282.4" y="223.7" width="11.0" height="11.0"/>
<rect x="1228.5" y="165.9" width="11.0" height="11.0" fill-opacity="0.8"/>
<rect x="1303.1" y="175.7" width="11.0" height="11.0"/>
<rect x="1067.2" y="376.2" width="11.0" height="11.0" fill-opacity="0.84"/>
<rect x="1217.0" y="223.8" width="11.0" height="11.0" fill-opacity="0.91"/>
<rect x="1155.8" y="330.5" width="11.0" height="11.0" fill-opacity="0.73"/>
<rect x="1067.2" y="370.2" width="11.0" height="11.0" fill-opacity="0.84"/>
<rect x="1088.7" y="330.5" width="11.0" height="11.0" fill-opacity="0.88"/>
<rect x="1124.4" y="256.2" width="11.0" height="11.0" fill-opacity="0.8"/>
<rect x="1197.1" y="280.9" width="11.0" height="11.0" fill-opacity="0.88"/>
<rect x="1067.2" y="327.2" width="11.0" height="11.0" fill-opacity="0.88"/>
<rect x="1213.7" y="213.8" width="11.0" height="11.0" fill-opacity="0.91"/>
<rect x="1126.1" y="228.7" width="11.0" height="11.0"/>
<rect x="1065.6" y="388.5" width="11.0" height="11.0" fill-opacity="0.73"/>
<rect x="1230.2" y="195.7" width="11.0" height="11.0" fill-opacity="0.91"/>
<rect x="1163.3" y="224.6" width="11.0" height="11.0" fill-opacity="0.73"/>
<rect x="1136.0" y="342.1" width="11.0" height="11.0" fill-opacity="0.77"/>
<rect x="1131.0" y="246.9" width="11.0" height="11.0" fill-opacity="0.88"/>
<rect x="1220.3" y="203.9" width="11.0" height="11.0" fill-opacity="0.91"/>
<rect x="1195.5" y="289.2" width="11.0" height="11.0" fill-opacity="0.8"/>
<rect x="1080.5" y="370.2" width="11.0" height="11.0" fill-opacity="0.8"/>
<rect x="1223.6" y="210.5" width="11.0" height="11.0" fill-opacity="0.91"/>
<rect x="1075.5" y="342.1" width="11.0" height="11.0" fill-opacity="0.91"/>
<rect x="1230.2" y="182.4" width="11.0" height="11.0" fill-opacity="0.91"/>
<rect x="1008.5" y="381.1" width="11.0" height="11.0" fill-opacity="0.73"/>
<rect x="1220.3" y="245.2" width="11.0" height="11.0" fill-opacity="0.91"/>
<rect x="1242.8" y="195.6" width="11.0" height="11.0" fill-opacity="0.91"/>
<rect x="1183.9" y="235.3" width="11.0" height="11.0" fill-opacity="0.91"/>
<rect x="1170.7" y="314.8" width="11.0" height="11.0"/>
<rect x="1119.5" y="337.1" width="11.0" height="11.0" fill-opacity="0.91"/>
<rect x="1256.0" y="203.8" width="11.0" height="11.0" fill-opacity="0.91"/>
<rect x="1144.3" y="232.0" width="11.0" height="11.0"/>
<rect x="1134.3" y="351.2" width="11.0" height="11.0"/>
<rect x="1147.6" y="266.1" width="11.0" height="11.0" fill-opacity="0.91"/>
<rect x="1136.0" y="322.3" width="11.0" height="11.0" fill-opacity="0.91"/>
<rect x="1170.7" y="243.6" width="11.0" height="11.0" fill-opacity="0.91"/>
<rect x="1119.5" y="347.1" width="11.0" height="11.0" fill-opacity="0.84"/>
<rect x="1155.8" y="257.8" width="11.0" height="11.0" fill-opacity="0.91"/>
<rect x="1293.2" y="206.3" width="11.0" height="11.0"/>
<rect x="1165.4" y="203.6" width="11.0" height="11.0"/>
<rect x="1230.2" y="240.3" width="11.0" height="11.0" fill-opacity="0.84"/>
<rect x="1020.1" y="424.9" width="11.0" height="11.0" fill-opacity="0.8"/>
<rect x="1265.9" y="142.7" width="11.0" height="11.0" fill-opacity="0.77"/>
<rect x="1260.1" y="223.7" width="11.0" height="11.0"/>
<rect x="1228.5" y="174.2" width="11.0" height="11.0" fill-opacity="0.91"/>
<rect x="1142.6" y="333.8" width="11.0" height="11.0" fill-opacity="0.88"/>
<rect x="1134.3" y="272.7" width="11.0" height="11.0" fill-opacity="0.91"/>
<rect x="1239.8" y="304.9" width="11.0" height="11.0"/>
<rect x="1257.6" y="213.8" width="11.0" height="11.0" fill-opacity="0.84"/>
<rect x="1106.9" y="328.9" width="11.0" height="11.0" fill-opacity="0.91"/>
<rect x="1075.5" y="328.9" width="11.0" height="11.0" fill-opacity="0.91"/>
<rect x="1116.2" y="366.9" width="11.0" height="11.0" fill-opacity="0.77"/>
<rect x="1200.5" y="207.2" width="11.0" height="11.0" fill-opacity="0.91"/>
<rect x="1221.9" y="233.7" width="11.0" height="11.0" fill-opacity="0.91"/>
<rect x="985.7" y="437.2" width="11.0" height="11.0"/>
<rect x="1154.2" y="309.0" width="11.0" height="11.0" fill-opacity="0.91"/>
<rect x="1057.3" y="366.9" width="11.0" height="11.0" fill-opacity="0.84"/>
<rect x="1037.5" y="377.8" width="11.0" height="11.0" fill-opacity="0.8"/>
<rect x="1244.4" y="185.7" width="11.0" height="11.0" fill-opacity="0.91"/>
<rect x="1023.4" y="386.1" width="11.0" height="11.0" fill-opacity="0.8"/>
<rect x="1207.1" y="264.4" width="11.0" height="11.0" fill-opacity="0.91"/>
<rect x="1243.6" y="175.7" width="11.0" height="11.0" fill-opacity="0.91"/>
<rect x="1187.2" y="225.4" width="11.0" height="11.0" fill-opacity="0.91"/>
<rect x="1207.1" y="227.1" width="11.0" height="11.0" fill-opacity="0.91"/>
<rect x="1082.1" y="378.6" width="11.0" height="11.0" fill-opacity="0.73"/>
<rect x="1145.1" y="276.0" width="11.0" height="11.0" fill-opacity="0.91"/>
<rect x="1088.7" y="340.5" width="11.0" height="11.0" fill-opacity="0.91"/>
<rect x="1182.3" y="292.5" width="11.0" height="11.0" fill-opacity="0.88"/>
<rect x="1142.6" y="250.2" width="11.0" height="11.0" fill-opacity="0.91"/>
<rect x="1266.7" y="151.8" width="11.0" height="11.0" fill-opacity="0.91"/>
<rect x="1254.3" y="177.4" width="11.0" height="11.0" fill-opacity="0.91"/>
<rect x="1265.9" y="180.7" width="11.0" height="11.0" fill-opacity="0.91"/>
<rect x="1236.2" y="187.3" width="11.0" height="11.0" fill-opacity="0.91"/>
<rect x="1030.0" y="363.6" width="11.0" height="11.0" fill-opacity="0.8"/>
<rect x="1131.0" y="333.8" width="11.0" height="11.0" fill-opacity="0.91"/>
<rect x="1083.8" y="278.5" width="11.0" height="11.0"/>
<rect x="1193.8" y="245.2" width="11.0" height="11.0" fill-opacity="0.91"/>
<rect x="1192.2" y="215.5" width="11.0" height="11.0" fill-opacity="0.91"/>
<rect x="1278.3" y="146.0" width="11.0" height="11.0" fill-opacity="0.91"/>
<rect x="1197.1" y="267.7" width="11.0" height="11.0" fill-opacity="0.91"/>
<rect x="1272.5" y="159.2" width="11.0" height="11.0" fill-opacity="0.91"/>
<rect x="1170.7" y="294.2" width="11.0" height="11.0" fill-opacity="0.91"/>
<rect x="1243.6" y="223.7" width="11.0" height="11.0" fill-opacity="0.84"/>
<rect x="1224.4" y="189.0" width="11.0" height="11.0" fill-opacity="0.91"/>
<rect x="1273.3" y="192.3" width="11.0" height="11.0" fill-opacity="0.8"/>
<rect x="1121.1" y="251.9" width="11.0" height="11.0" fill-opacity="0.8"/>
<rect x="1008.5" y="397.6" width="11.0" height="11.0"/>
<rect x="1046.6" y="340.5" width="11.0" height="11.0" fill-opacity="0.73"/>
<rect x="995.3" y="343.8" width="11.0" height="11.0"/>
<rect x="1207.1" y="246.9" width="11.0" height="11.0" fill-opacity="0.91"/>
<rect x="1244.4" y="213.8" width="11.0" height="11.0" fill-opacity="0.91"/>
<rect x="996.2" y="424.1" width="11.0" height="11.0" fill-opacity="0.77"/>
<rect x="1119.5" y="277.6" width="11.0" height="11.0" fill-opacity="0.88"/>
<rect x="1134.3" y="264.4" width="11.0" height="11.0" fill-opacity="0.91"/>
<rect x="1033.3" y="342.9" width="11.0" height="11.0" fill-opacity="0.77"/>
<rect x="1117.8" y="325.6" width="11.0" height="11.0" fill-opacity="0.91"/>
<rect x="1202.1" y="215.5" width="11.0" height="11.0" fill-opacity="0.91"/>
<rect x="1080.5" y="285.1" width="11.0" height="11.0" fill-opacity="0.73"/>
<rect x="1062.3" y="314.0" width="11.0" height="11.0" fill-opacity="0.8"/>
<rect x="1183.9" y="245.2" width="11.0" height="11.0" fill-opacity="0.91"/>
<rect x="1268.4" y="157.6" width="11.0" height="11.0" fill-opacity="0.91"/>
<rect x="1155.8" y="294.2" width="11.0" height="11.0" fill-opacity="0.91"/>
<rect x="1195.5" y="237.0" width="11.0" height="11.0" fill-opacity="0.91"/>
<rect x="1177.3" y="227.1" width="11.0" height="11.0" fill-opacity="0.84"/>
<rect x="1140.9" y="256.2" width="11.0" height="11.0" fill-opacity="0.91"/>
<rect x="1236.2" y="164.2" width="11.0" height="11.0" fill-opacity="0.84"/>
<rect x="1145.9" y="304.1" width="11.0" height="11.0" fill-opacity="0.91"/>
<rect x="1182.3" y="280.9" width="11.0" height="11.0" fill-opacity="0.91"/>
<rect x="1116.2" y="215.5" width="11.0" height="11.0"/>
<rect x="1059.0" y="422.4" width="11.0" height="11.0"/>
<rect x="1117.8" y="314.0" width="11.0" height="11.0" fill-opacity="0.91"/>
<rect x="1065.6" y="353.7" width="11.0" height="11.0" fill-opacity="0.91"/>
<rect x="1159.1" y="241.9" width="11.0" height="11.0" fill-opacity="0.91"/>
<rect x="1155.8" y="250.2" width="11.0" height="11.0" fill-opacity="0.91"/>
<rect x="1141.8" y="314.8" width="11.0" height="11.0" fill-opacity="0.91"/>
<rect x="1159.1" y="280.9" width="11.0" height="11.0" fill-opacity="0.88"/>
<rect x="1207.1" y="235.3" width="11.0" height="11.0" fill-opacity="0.91"/>
<rect x="1183.9" y="271.0" width="11.0" height="11.0" fill-opacity="0.91"/>
<rect x="1100.3" y="378.6" width="11.0" height="11.0" fill-opacity="0.77"/>
<rect x="1110.2" y="366.9" width="11.0" height="11.0" fill-opacity="0.8"/>
<rect x="1108.5" y="264.4" width="11.0" height="11.0" fill-opacity="0.8"/>
<rect x="1208.7" y="207.2" width="11.0" height="11.0" fill-opacity="0.91"/>
<rect x="1128.5" y="294.2" width="11.0" height="11.0" fill-opacity="0.91"/>
<rect x="1213.3" y="275.2" width="11.0" height="11.0" fill-opacity="0.73"/>
<rect x="1101.9" y="314.0" width="11.0" height="11.0" fill-opacity="0.84"/>
<rect x="1119.5" y="302.4" width="11.0" height="11.0" fill-opacity="0.91"/>
<rect x="1047.1" y="275.7" width="11.0" height="11.0"/>
<rect x="1073.8" y="304.9" width="11.0" height="11.0" fill-opacity="0.73"/>
<rect x="1090.4" y="366.9" width="11.0" height="11.0" fill-opacity="0.8"/>
<rect x="1294.0" y="174.1" width="11.0" height="11.0" fill-opacity="0.77"/>
<rect x="1097.0" y="304.1" width="11.0" height="11.0" fill-opacity="0.8"/>
<rect x="1149.2" y="327.2" width="11.0" height="11.0" fill-opacity="0.88"/>
<rect x="1057.0" y="261.4" width="11.0" height="11.0"/>
<rect x="1237.0" y="205.5" width="11.0" height="11.0" fill-opacity="0.91"/>
<rect x="1020.1" y="414.2" width="11.0" height="11.0" fill-opacity="0.8"/>
<rect x="1062.3" y="322.3" width="11.0" height="11.0" fill-opacity="0.84"/>
<rect x="1110.2" y="345.4" width="11.0" height="11.0" fill-opacity="0.8"/>
<rect x="1213.7" y="257.8" width="11.0" height="11.0" fill-opacity="0.91"/>
<rect x="1129.4" y="314.0" width="11.0" height="11.0" fill-opacity="0.91"/>
<rect x="1093.7" y="257.8" width="11.0" height="11.0"/>
<rect x="1078.8" y="299.1" width="11.0" height="11.0"/>
<rect x="1284.1" y="168.3" width="11.0" height="11.0" fill-opacity="0.8"/>
<rect x="1030.0" y="348.7" width="11.0" height="11.0"/>
<rect x="1065.6" y="342.1" width="11.0" height="11.0" fill-opacity="0.91"/>
<rect x="1019.3" y="372.7" width="11.0" height="11.0" fill-opacity="0.88"/>
<rect x="1103.6" y="269.4" width="11.0" height="11.0" fill-opacity="0.73"/>
<rect x="1185.6" y="257.8" width="11.0" height="11.0" fill-opacity="0.91"/>
<rect x="1008.5" y="412.5" width="11.0" height="11.0" fill-opacity="0.84"/>
<rect x="1268.4" y="203.0" width="11.0" height="11.0" fill-opacity="0.88"/>
<rect x="1165.7" y="305.7" width="11.0" height="11.0" fill-opacity="0.91"/>
<rect x="1008.1" y="318.6" width="11.0" height="11.0"/>
<rect x="1106.9" y="289.2" width="11.0" height="11.0" fill-opacity="0.88"/>
<rect x="1119.5" y="370.2" width="11.0" height="11.0" fill-opacity="0.77"/>
<rect x="1269.2" y="169.1" width="11.0" height="11.0" fill-opacity="0.91"/>
<rect x="1065.6" y="394.3" width="11.0" height="11.0"/>
<rect x="1169.0" y="261.1" width="11.0" height="11.0" fill-opacity="0.91"/>
<rect x="1160.8" y="264.4" width="11.0" height="11.0" fill-opacity="0.91"/>
<rect x="1077.1" y="353.7" width="11.0" height="11.0" fill-opacity="0.91"/>
<rect x="1197.1" y="225.4" width="11.0" height="11.0" fill-opacity="0.91"/>
<rect x="1259.3" y="169.1" width="11.0" height="11.0" fill-opacity="0.91"/>
<rect x="1110.2" y="376.2" width="11.0" height="11.0" fill-opacity="0.8"/>
<rect x="1290.7" y="154.3" width="11.0" height="11.0" fill-opacity="0.73"/>
<rect x="1172.4" y="264.4" width="11.0" height="11.0" fill-opacity="0.91"/>
<rect x="1047.4" y="314.3" width="11.0" height="11.0"/>
<rect x="1255.2" y="192.3" width="11.0" height="11.0" fill-opacity="0.91"/>
<rect x="1230.2" y="212.2" width="11.0" height="11.0" fill-opacity="0.91"/>
<rect x="1013.5" y="337.1" width="11.0" height="11.0"/>
<rect x="1108.5" y="317.3" width="11.0" height="11.0" fill-opacity="0.91"/>
<rect x="1020.1" y="421.6" width="11.0" height="11.0" fill-opacity="0.8"/>
<rect x="1067.2" y="282.6" width="11.0" height="11.0"/>
<rect x="1117.8" y="290.9" width="11.0" height="11.0" fill-opacity="0.91"/>
<rect x="1045.7" y="335.5" width="11.0" height="11.0" fill-opacity="0.73"/>
<rect x="1265.9" y="243.5" width="11.0" height="11.0"/>
<rect x="1257.6" y="160.9" width="11.0" height="11.0" fill-opacity="0.91"/>
</g>
<line x1="847.20" y1="595.00" x2="1428.40" y2="13.70" stroke="#000" stroke-width="3.3"/>
</svg>
<rect x="847.20" y="13.70" width="581.20" height="581.30" fill="none" stroke="#000" stroke-width="1.65"/>
<line x1="847.20" y1="595.00" x2="847.20" y2="602.60" stroke="#000" stroke-width="1.7"/>
<line x1="839.60" y1="595.00" x2="847.20" y2="595.00" stroke="#000" stroke-width="1.7"/>
<line x1="930.23" y1="595.00" x2="930.23" y2="602.60" stroke="#000" stroke-width="1.7"/>
<line x1="839.60" y1="511.96" x2="847.20" y2="511.96" stroke="#000" stroke-width="1.7"/>
<line x1="1013.26" y1="595.00" x2="1013.26" y2="602.60" stroke="#000" stroke-width="1.7"/>
<line x1="839.60" y1="428.91" x2="847.20" y2="428.91" stroke="#000" stroke-width="1.7"/>
<line x1="1096.29" y1="595.00" x2="1096.29" y2="602.60" stroke="#000" stroke-width="1.7"/>
<line x1="839.60" y1="345.87" x2="847.20" y2="345.87" stroke="#000" stroke-width="1.7"/>
<line x1="1179.31" y1="595.00" x2="1179.31" y2="602.60" stroke="#000" stroke-width="1.7"/>
<line x1="839.60" y1="262.83" x2="847.20" y2="262.83" stroke="#000" stroke-width="1.7"/>
<line x1="1262.34" y1="595.00" x2="1262.34" y2="602.60" stroke="#000" stroke-width="1.7"/>
<line x1="839.60" y1="179.79" x2="847.20" y2="179.79" stroke="#000" stroke-width="1.7"/>
<line x1="1345.37" y1="595.00" x2="1345.37" y2="602.60" stroke="#000" stroke-width="1.7"/>
<line x1="839.60" y1="96.74" x2="847.20" y2="96.74" stroke="#000" stroke-width="1.7"/>
<line x1="1428.40" y1="595.00" x2="1428.40" y2="602.60" stroke="#000" stroke-width="1.7"/>
<line x1="839.60" y1="13.70" x2="847.20" y2="13.70" stroke="#000" stroke-width="1.7"/>
<rect x="822.00" y="620.85" width="16.2" height="2.0" fill="#000"/>
<text transform="translate(839.94,630.90) scale(1.06,1)" style="font-family:'Liberation Serif';font-size:31.0px">1</text>
<text transform="translate(857.04,630.90) scale(1.06,1)" style="font-family:'Liberation Serif';font-size:31.0px">1</text>
<rect x="778.95" y="595.45" width="16.2" height="2.0" fill="#000"/>
<text transform="translate(796.89,605.20) scale(1.06,1)" style="font-family:'Liberation Serif';font-size:31.0px">1</text>
<text transform="translate(813.99,605.20) scale(1.06,1)" style="font-family:'Liberation Serif';font-size:31.0px">1</text>
<rect x="905.03" y="620.85" width="16.2" height="2.0" fill="#000"/>
<text transform="translate(922.97,630.90) scale(1.06,1)" style="font-family:'Liberation Serif';font-size:31.0px">1</text>
<text transform="translate(940.56,630.90) scale(1.06,1)" style="font-family:'Liberation Serif';font-size:31.0px">0</text>
<rect x="778.95" y="512.41" width="16.2" height="2.0" fill="#000"/>
<text transform="translate(796.89,522.16) scale(1.06,1)" style="font-family:'Liberation Serif';font-size:31.0px">1</text>
<text transform="translate(814.49,522.16) scale(1.06,1)" style="font-family:'Liberation Serif';font-size:31.0px">0</text>
<rect x="996.66" y="620.85" width="16.2" height="2.0" fill="#000"/>
<text transform="translate(1015.26,630.90) scale(1.06,1)" style="font-family:'Liberation Serif';font-size:31.0px">9</text>
<rect x="796.05" y="429.36" width="16.2" height="2.0" fill="#000"/>
<text transform="translate(814.65,439.11) scale(1.06,1)" style="font-family:'Liberation Serif';font-size:31.0px">9</text>
<rect x="1079.69" y="620.85" width="16.2" height="2.0" fill="#000"/>
<text transform="translate(1098.12,630.90) scale(1.06,1)" style="font-family:'Liberation Serif';font-size:31.0px">8</text>
<rect x="796.05" y="346.32" width="16.2" height="2.0" fill="#000"/>
<text transform="translate(814.49,356.07) scale(1.06,1)" style="font-family:'Liberation Serif';font-size:31.0px">8</text>
<rect x="1162.71" y="620.85" width="16.2" height="2.0" fill="#000"/>
<text transform="translate(1180.49,630.90) scale(1.06,1)" style="font-family:'Liberation Serif';font-size:31.0px">7</text>
<rect x="796.05" y="263.28" width="16.2" height="2.0" fill="#000"/>
<text transform="translate(813.83,273.03) scale(1.06,1)" style="font-family:'Liberation Serif';font-size:31.0px">7</text>
<rect x="1245.74" y="620.85" width="16.2" height="2.0" fill="#000"/>
<text transform="translate(1264.01,630.90) scale(1.06,1)" style="font-family:'Liberation Serif';font-size:31.0px">6</text>
<rect x="796.05" y="180.24" width="16.2" height="2.0" fill="#000"/>
<text transform="translate(814.32,189.99) scale(1.06,1)" style="font-family:'Liberation Serif';font-size:31.0px">6</text>
<rect x="1328.77" y="620.85" width="16.2" height="2.0" fill="#000"/>
<text transform="translate(1346.88,630.90) scale(1.06,1)" style="font-family:'Liberation Serif';font-size:31.0px">5</text>
<rect x="796.05" y="97.19" width="16.2" height="2.0" fill="#000"/>
<text transform="translate(814.16,106.94) scale(1.06,1)" style="font-family:'Liberation Serif';font-size:31.0px">5</text>
<rect x="1411.80" y="620.85" width="16.2" height="2.0" fill="#000"/>
<text transform="translate(1430.24,630.90) scale(1.06,1)" style="font-family:'Liberation Serif';font-size:31.0px">4</text>
<rect x="796.05" y="14.15" width="16.2" height="2.0" fill="#000"/>
<text transform="translate(814.49,23.90) scale(1.06,1)" style="font-family:'Liberation Serif';font-size:31.0px">4</text>
<text transform="translate(964.13,665.10) scale(1.0685,1)" style="font-family:'Liberation Serif';font-size:30.2px;font-weight:normal" fill="#000">Predicted log(CGR, mm/s)</text>
<text transform="translate(761.90,480.46) rotate(-90) scale(1.0646,1)" style="font-family:'Liberation Serif';font-size:30.2px">Measured log(CGR, mm/s)</text>
<text transform="translate(1112.56,712.20) scale(1.0317,1)" style="font-family:'Liberation Sans';font-size:29.9px;font-weight:bold" fill="#000">(b)</text>
<rect x="855.50" y="22.6" width="501.20" height="63.9" rx="3.2" ry="3.2" fill="#fff" stroke="#8a8a8a" stroke-width="1.6"/>
<circle cx="880.70" cy="40.85" r="6.0" fill="#4169e1" fill-opacity="0.7" stroke="#000" stroke-opacity="0.75" stroke-width="1.3"/>
<rect x="874.60" y="64.70" width="11.6" height="11.6" fill="#ee4810" fill-opacity="0.7" stroke="#000" stroke-opacity="0.75" stroke-width="1.3"/>
<text transform="translate(912.63,45.80) scale(0.9210,1)" style="font-family:'Liberation Serif';font-size:20.75px;font-weight:normal" fill="#000">BWR</text>
<text transform="translate(962.00,45.80) scale(0.9588,1)" style="font-family:'Liberation Serif';font-size:20.75px;font-weight:normal" fill="#000">(R</text>
<text transform="translate(982.70,39.00) scale(0.9353,1)" style="font-family:'Liberation Serif';font-size:13.3px;font-weight:normal" fill="#000">2</text>
<rect x="996.80" y="37.20" width="11.40" height="1.6" fill="#000"/>
<rect x="996.80" y="40.80" width="11.40" height="1.6" fill="#000"/>
<text transform="translate(1015.22,45.80) scale(1.0630,1)" style="font-family:'Liberation Serif';font-size:20.75px;font-weight:normal" fill="#000">0.830</text>
<g stroke="#3a3a3a" stroke-width="1.05" fill="none"><line x1="1071.00" y1="39.45" x2="1082.60" y2="39.45"/><line x1="1076.80" y1="33.90" x2="1076.80" y2="43.84"/><line x1="1071.00" y1="45.30" x2="1082.60" y2="45.30" stroke-width="1.3"/></g>
<text transform="translate(1089.52,45.80) scale(1.0630,1)" style="font-family:'Liberation Serif';font-size:20.75px;font-weight:normal" fill="#000">0.043,</text>
<text transform="translate(1150.72,45.80) scale(0.9278,1)" style="font-family:'Liberation Serif';font-size:20.75px;font-weight:normal" fill="#000">MAE</text>
<rect x="1200.50" y="37.20" width="11.60" height="1.6" fill="#000"/>
<rect x="1200.50" y="40.80" width="11.60" height="1.6" fill="#000"/>
<text transform="translate(1219.42,45.80) scale(1.0630,1)" style="font-family:'Liberation Serif';font-size:20.75px;font-weight:normal" fill="#000">0.239</text>
<g stroke="#3a3a3a" stroke-width="1.05" fill="none"><line x1="1275.40" y1="39.45" x2="1287.40" y2="39.45"/><line x1="1281.40" y1="33.90" x2="1281.40" y2="43.84"/><line x1="1275.40" y1="45.30" x2="1287.40" y2="45.30" stroke-width="1.3"/></g>
<text transform="translate(1293.42,45.80) scale(1.0630,1)" style="font-family:'Liberation Serif';font-size:20.75px;font-weight:normal" fill="#000">0.033)</text>
<text transform="translate(912.82,75.60) scale(0.9391,1)" style="font-family:'Liberation Serif';font-size:20.75px;font-weight:normal" fill="#000">PWR</text>
<text transform="translate(961.20,75.60) scale(0.9588,1)" style="font-family:'Liberation Serif';font-size:20.75px;font-weight:normal" fill="#000">(R</text>
<text transform="translate(981.90,68.80) scale(0.9353,1)" style="font-family:'Liberation Serif';font-size:13.3px;font-weight:normal" fill="#000">2</text>
<rect x="996.00" y="67.00" width="11.40" height="1.6" fill="#000"/>
<rect x="996.00" y="70.60" width="11.40" height="1.6" fill="#000"/>
<text transform="translate(1014.42,75.60) scale(1.0630,1)" style="font-family:'Liberation Serif';font-size:20.75px;font-weight:normal" fill="#000">0.820</text>
<g stroke="#3a3a3a" stroke-width="1.05" fill="none"><line x1="1070.20" y1="69.25" x2="1081.80" y2="69.25"/><line x1="1076.00" y1="63.70" x2="1076.00" y2="73.64"/><line x1="1070.20" y1="75.10" x2="1081.80" y2="75.10" stroke-width="1.3"/></g>
<text transform="translate(1088.72,75.60) scale(1.0630,1)" style="font-family:'Liberation Serif';font-size:20.75px;font-weight:normal" fill="#000">0.014,</text>
<text transform="translate(1149.92,75.60) scale(0.9278,1)" style="font-family:'Liberation Serif';font-size:20.75px;font-weight:normal" fill="#000">MAE</text>
<rect x="1199.70" y="67.00" width="11.60" height="1.6" fill="#000"/>
<rect x="1199.70" y="70.60" width="11.60" height="1.6" fill="#000"/>
<text transform="translate(1218.62,75.60) scale(1.0630,1)" style="font-family:'Liberation Serif';font-size:20.75px;font-weight:normal" fill="#000">0.256</text>
<g stroke="#3a3a3a" stroke-width="1.05" fill="none"><line x1="1274.60" y1="69.25" x2="1286.60" y2="69.25"/><line x1="1280.60" y1="63.70" x2="1280.60" y2="73.64"/><line x1="1274.60" y1="75.10" x2="1286.60" y2="75.10" stroke-width="1.3"/></g>
<text transform="translate(1292.62,75.60) scale(1.0630,1)" style="font-family:'Liberation Serif';font-size:20.75px;font-weight:normal" fill="#000">0.009)</text></svg>
</body></html>
